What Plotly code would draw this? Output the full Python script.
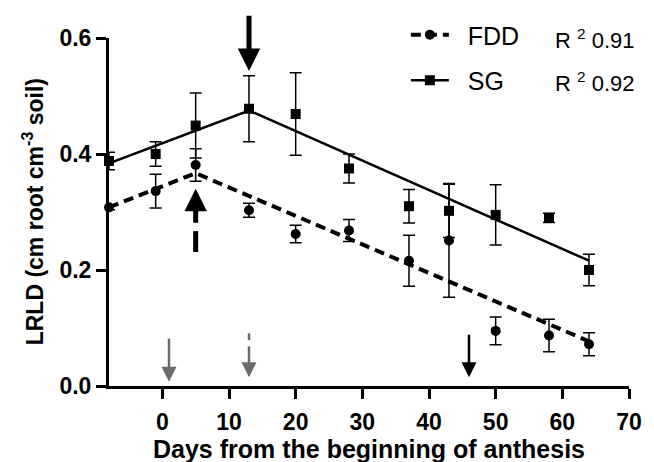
import plotly.graph_objects as go

# ---- data ----
days = [-8, -1, 5, 13, 20, 28, 37, 43, 50, 58, 64]
fdd_y = [0.308, 0.336, 0.381, 0.303, 0.262, 0.268, 0.216, 0.251, 0.095, 0.087, 0.072]
fdd_err = [0.004, 0.029, 0.028, 0.012, 0.015, 0.019, 0.044, 0.098, 0.024, 0.028, 0.020]
sg_y = [0.388, 0.400, 0.449, 0.478, 0.469, 0.375, 0.310, 0.302, 0.295, 0.290, 0.200]
sg_err = [0.015, 0.021, 0.056, 0.057, 0.071, 0.025, 0.029, 0.046, 0.052, 0.008, 0.027]

# segmented fits (break points)
fdd_fit_x = [-8, 5, 64]
fdd_fit_y = [0.308, 0.367, 0.077]
sg_fit_x = [-8, 13, 64]
sg_fit_y = [0.384, 0.475, 0.216]

r2_labels = ["R <sup>2</sup> 0.91", "R <sup>2</sup> 0.92"]
series_names = ["FDD", "SG"]

x_ticks = [0, 10, 20, 30, 40, 50, 60, 70]
y_ticks = [0.0, 0.2, 0.4, 0.6]

# arrows: x, tail y, tip y
arrow_x = [13, 5, 1, 13, 46]
arrow_tail = [0.641, 0.279, 0.084, 0.0707, 0.091]
arrow_tip = [0.543, 0.340, 0.0074, 0.015, 0.015]
arrow_color = ["black", "black", "#6b6b6b", "#6b6b6b", "black"]
arrow_w = [5, 5, 2.5, 2.5, 2.5]
arrow_s = [0.9, 0.9, 1.2, 1.2, 1.2]
# extra dash pieces of the dashed arrow shafts: x, y0, y1, colour, width
dash_x = [5, 13]
dash_y0 = [0.231, 0.079]
dash_y1 = [0.267, 0.091]
dash_col = ["black", "#6b6b6b"]
dash_w = [5, 2.5]

FONT = "Liberation Sans"
FDD_DASH = "10px,6px"

fig = go.Figure()

# fit lines
fig.add_trace(go.Scatter(x=fdd_fit_x, y=fdd_fit_y, mode="lines",
                         line=dict(color="black", width=4, dash=FDD_DASH),
                         showlegend=False, hoverinfo="skip"))
fig.add_trace(go.Scatter(x=sg_fit_x, y=sg_fit_y, mode="lines",
                         line=dict(color="black", width=2.5),
                         showlegend=False, hoverinfo="skip"))

# data points with error bars
fig.add_trace(go.Scatter(x=days, y=fdd_y, mode="markers",
                         marker=dict(symbol="circle", size=10, color="black"),
                         error_y=dict(type="data", array=fdd_err, color="black",
                                      thickness=1.5, width=6),
                         cliponaxis=False, showlegend=False))
fig.add_trace(go.Scatter(x=days, y=sg_y, mode="markers",
                         marker=dict(symbol="square", size=10, color="black"),
                         error_y=dict(type="data", array=sg_err, color="black",
                                      thickness=1.5, width=6),
                         cliponaxis=False, showlegend=False))

# legend-only entries
nb = "\u00a0" * 2
fig.add_trace(go.Scatter(x=[None], y=[None], mode="lines+markers",
                         name=nb + series_names[0], legendgroup="a",
                         line=dict(color="black", width=4, dash=FDD_DASH),
                         marker=dict(symbol="circle", size=10, color="black")))
fig.add_trace(go.Scatter(x=[None], y=[None], mode="lines+markers",
                         name=nb + series_names[1], legendgroup="b",
                         line=dict(color="black", width=2.5),
                         marker=dict(symbol="square", size=10, color="black")))

# dashed shaft pieces
for i in range(len(dash_x)):
    fig.add_trace(go.Scatter(x=[dash_x[i], dash_x[i]], y=[dash_y0[i], dash_y1[i]],
                             mode="lines", line=dict(color=dash_col[i], width=dash_w[i]),
                             showlegend=False, hoverinfo="skip"))

annotations = []
for i in range(len(arrow_x)):
    annotations.append(dict(x=arrow_x[i], y=arrow_tip[i], ax=arrow_x[i], ay=arrow_tail[i],
                            xref="x", yref="y", axref="x", ayref="y", text="",
                            showarrow=True, arrowhead=2, arrowwidth=arrow_w[i],
                            arrowsize=arrow_s[i], arrowcolor=arrow_color[i]))

L, R, T, B = 109, 16, 38, 76
PW = 654 - L - R
PH = 462 - T - B

def px_x(p):
    return (p - L) / PW

def px_y(p):
    return 1 - (p - T) / PH

for i, lab in enumerate(r2_labels):
    annotations.append(dict(text=lab, xref="paper", yref="paper",
                            x=px_x(561), y=px_y([39, 82][i]), xanchor="left", yanchor="middle",
                            showarrow=False, font=dict(family=FONT, size=22, color="black")))

annotations.append(dict(text="LRLD (cm root cm<sup>-3</sup> soil)", xref="paper", yref="paper",
                        x=px_x(32), y=px_y(212), xanchor="center", yanchor="middle",
                        textangle=-90, showarrow=False,
                        font=dict(family=FONT, size=23, color="black", weight="bold")))
annotations.append(dict(text="Days from the beginning of anthesis", xref="paper", yref="paper",
                        x=px_x(374), y=px_y(449), xanchor="center", yanchor="middle",
                        showarrow=False,
                        font=dict(family=FONT, size=25, color="black", weight="bold")))

fig.update_layout(
    width=654, height=462,
    margin=dict(l=L, r=R, t=T, b=B),
    paper_bgcolor="white", plot_bgcolor="white",
    font=dict(family=FONT, color="black"),
    showlegend=True,
    legend=dict(x=px_x(411), y=px_y(12), xanchor="left", yanchor="top",
                bgcolor="rgba(0,0,0,0)", font=dict(family=FONT, size=25, color="black"),
                traceorder="grouped", tracegroupgap=10, itemwidth=38),
    annotations=annotations,
    xaxis=dict(range=[-8, 70], tickvals=x_ticks, showline=True, linewidth=3, linecolor="black",
               ticks="outside", ticklen=10, tickwidth=3, tickcolor="black",
               showgrid=False, zeroline=False, ticklabelstandoff=3,
               tickfont=dict(family=FONT, size=23, color="black", weight="bold")),
    yaxis=dict(range=[0, 0.6], tickvals=y_ticks, tickformat=".1f", showline=True, linewidth=3,
               linecolor="black", ticks="outside", ticklen=10, tickwidth=3, tickcolor="black",
               showgrid=False, zeroline=False,
               tickfont=dict(family=FONT, size=23, color="black", weight="bold")),
)

fig.write_html("out.html")
